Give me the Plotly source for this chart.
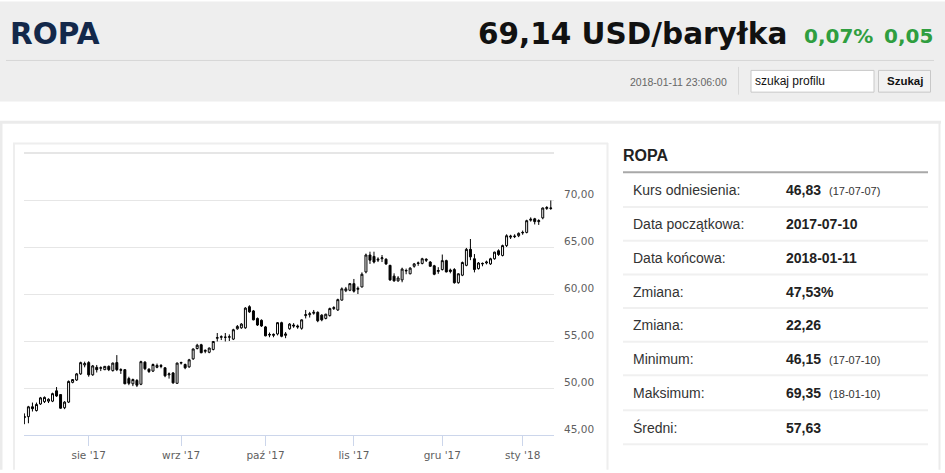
import pandas as pd
import plotly.graph_objects as go

# ---------------- data ----------------
holidays = ["2017-12-25", "2018-01-01"]
dates = [d.strftime("%Y-%m-%d") for d in pd.bdate_range("2017-07-10", "2018-01-11")
         if d.strftime("%Y-%m-%d") not in holidays]

open_ = [46.85, 46.95, 48.00, 47.60, 48.30, 48.55, 48.60, 48.60, 49.70, 49.30,
         47.90, 48.50, 50.60, 50.85, 51.50, 52.45, 52.70, 51.40, 52.20, 52.10,
         51.95, 52.30, 51.85, 52.70, 51.95, 51.95, 51.00, 50.45, 50.80, 50.40,
         52.75, 52.00, 51.80, 52.20, 52.40, 52.15, 51.40, 51.60, 50.50, 52.65,
         52.50, 52.25, 53.10, 54.20, 54.60, 53.90, 53.80, 54.10, 55.30, 55.40,
         55.40, 55.40, 55.20, 56.30, 56.40, 56.40, 58.65, 58.20, 57.40, 57.20,
         56.50, 55.70, 55.60, 55.75, 56.95, 55.60, 56.30, 56.70, 56.60, 56.35,
         57.70, 57.80, 57.95, 58.05, 57.75, 57.40, 57.70, 58.45, 58.30, 59.35,
         60.35, 60.40, 61.10, 60.50, 60.75, 62.35, 64.15, 64.00, 63.60, 63.75,
         63.70, 63.05, 61.90, 61.40, 61.50, 62.45, 62.15, 62.95, 63.25, 63.25,
         63.70, 63.40, 63.00, 62.40, 62.60, 63.55, 62.55, 62.60, 61.20, 62.00,
         63.05, 64.75, 63.75, 62.70, 63.20, 63.30, 63.20, 63.75, 64.60, 64.10,
         65.15, 66.05, 66.10, 66.20, 66.50, 66.55, 67.85, 68.00, 67.70, 68.10,
         69.10, 69.10]
high = [47.30, 48.10, 48.45, 48.45, 49.05, 49.10, 48.90, 49.50, 50.10, 49.35,
        48.60, 50.80, 50.95, 51.60, 52.80, 52.80, 52.85, 52.45, 52.45, 52.30,
        52.35, 52.40, 52.70, 53.50, 52.10, 52.00, 51.20, 51.00, 50.95, 52.90,
        52.85, 52.10, 52.60, 52.60, 52.55, 52.20, 51.65, 51.70, 52.70, 52.80,
        52.60, 53.10, 54.20, 54.70, 54.70, 54.10, 54.30, 55.00, 55.85, 55.60,
        55.85, 55.70, 56.30, 56.70, 56.90, 58.60, 58.80, 58.30, 57.50, 57.30,
        56.60, 55.90, 55.80, 57.00, 57.05, 55.95, 56.90, 56.90, 56.75, 57.30,
        58.30, 58.10, 58.30, 58.15, 57.85, 57.90, 58.55, 58.70, 59.50, 60.70,
        60.75, 61.15, 61.60, 60.80, 62.30, 64.30, 64.50, 64.50, 63.90, 64.15,
        63.80, 63.10, 62.20, 61.90, 62.80, 62.70, 62.85, 63.30, 63.45, 63.85,
        63.80, 63.50, 63.10, 62.85, 64.20, 63.65, 62.70, 62.75, 62.20, 63.45,
        64.90, 65.85, 64.25, 63.40, 63.35, 63.55, 63.85, 64.50, 64.75, 65.25,
        66.35, 66.30, 66.35, 66.55, 66.75, 67.90, 68.15, 68.10, 67.95, 69.20,
        69.35, 69.95]
low = [46.15, 46.25, 47.50, 47.50, 48.20, 48.40, 48.40, 48.50, 49.05, 47.80,
       47.75, 48.40, 50.50, 50.75, 51.40, 52.20, 51.20, 51.30, 51.65, 51.80,
       51.90, 51.80, 51.75, 51.80, 51.50, 50.40, 50.30, 50.20, 50.10, 50.30,
       51.90, 51.60, 51.70, 52.10, 52.10, 51.15, 51.00, 50.45, 50.45, 52.50,
       52.00, 52.15, 53.00, 54.10, 53.70, 53.70, 53.70, 54.00, 54.95, 55.10,
       54.95, 55.00, 55.10, 56.20, 56.30, 56.30, 58.00, 57.20, 56.60, 56.50,
       55.50, 55.40, 55.40, 55.60, 55.40, 55.30, 56.20, 56.40, 56.30, 56.20,
       57.40, 57.50, 57.80, 57.00, 57.10, 57.30, 57.60, 58.30, 58.20, 59.30,
       60.20, 60.30, 60.15, 60.00, 60.70, 62.20, 63.20, 63.25, 63.40, 63.40,
       63.10, 61.40, 61.30, 61.30, 61.25, 62.10, 62.10, 62.80, 63.00, 63.15,
       63.40, 62.90, 62.00, 62.15, 62.50, 62.30, 62.20, 61.10, 61.10, 61.90,
       62.95, 63.60, 62.30, 62.60, 62.95, 63.15, 63.10, 63.65, 64.05, 64.00,
       65.00, 65.85, 65.95, 66.05, 66.30, 66.45, 67.70, 67.40, 67.35, 67.95,
       68.95, 68.95]
close = [46.95, 48.00, 47.80, 48.25, 48.95, 49.00, 48.80, 49.40, 49.15, 47.85,
         48.50, 50.70, 50.90, 51.50, 52.70, 52.60, 51.40, 52.35, 51.95, 52.15,
         52.30, 51.95, 52.65, 51.95, 51.90, 50.45, 50.50, 50.90, 50.30, 52.80,
         52.05, 51.75, 52.50, 52.40, 52.30, 51.30, 51.50, 50.55, 52.65, 52.70,
         52.15, 53.00, 54.15, 54.55, 53.75, 54.00, 54.25, 54.95, 55.35, 55.45,
         55.40, 55.45, 56.20, 56.55, 56.80, 58.50, 58.10, 57.25, 56.70, 56.60,
         55.55, 55.65, 55.70, 56.95, 55.50, 55.75, 56.80, 56.60, 56.50, 57.25,
         57.80, 57.90, 58.05, 57.15, 57.25, 57.85, 58.45, 58.55, 59.40, 60.55,
         60.55, 61.10, 60.30, 60.60, 62.10, 64.15, 63.60, 63.40, 63.70, 63.85,
         63.20, 61.50, 61.40, 61.70, 62.65, 62.50, 62.75, 63.20, 63.30, 63.75,
         63.60, 62.95, 62.10, 62.50, 63.55, 62.35, 62.40, 61.20, 62.15, 63.35,
         64.75, 63.95, 62.60, 63.30, 63.25, 63.40, 63.75, 64.45, 64.20, 65.15,
         66.20, 66.15, 66.15, 66.45, 66.55, 67.80, 67.95, 67.70, 67.80, 69.15,
         69.20, 69.14]

month_ticks = ["2017-08-01", "2017-09-01", "2017-10-02", "2017-11-01", "2017-12-01", "2018-01-02"]
month_labels = ["sie '17", "wrz '17", "paź '17", "lis '17", "gru '17", "sty '18"]
y_ticks = [45, 50, 55, 60, 65, 70, 75]
y_labels = ["45,00", "50,00", "55,00", "60,00", "65,00", "70,00", ""]

title = "ROPA"
price_text = "69,14 USD/baryłka"
change_pct = "0,07%"
change_abs = "0,05"
timestamp = "2018-01-11 23:06:00"

table_labels = ["Kurs odniesienia:", "Data początkowa:", "Data końcowa:", "Zmiana:",
                "Zmiana:", "Minimum:", "Maksimum:", "Średni:"]
table_values = ["46,83", "2017-07-10", "2018-01-11", "47,53%", "22,26", "46,15", "69,35", "57,63"]
table_notes = ["(17-07-07)", "", "", "", "", "(17-07-10)", "(18-01-10)", ""]

# ---------------- layout helpers ----------------
W, H = 945, 473
ML, MR, MT, MB = 24, 391, 153, 35
PW = W - ML - MR
PH = H - MT - MB


def X(px):
    return (px - ML) / PW


def Y(py):
    return (H - MB - py) / PH


shapes = []
annotations = []


def rect(x0, y0, x1, y1, fill=None, line=None, lw=1, layer="below"):
    shapes.append(dict(type="rect", xref="paper", yref="paper",
                       x0=X(x0), x1=X(x1), y0=Y(y1), y1=Y(y0),
                       fillcolor=fill if fill else "rgba(0,0,0,0)",
                       line=dict(color=line if line else "rgba(0,0,0,0)", width=lw if line else 0),
                       layer=layer))


def hline(x0, x1, y, color, lw=1, layer="below"):
    shapes.append(dict(type="line", xref="paper", yref="paper",
                       x0=X(x0), x1=X(x1), y0=Y(y), y1=Y(y),
                       line=dict(color=color, width=lw), layer=layer))


def vline(x, y0, y1, color, lw=1, layer="below"):
    shapes.append(dict(type="line", xref="paper", yref="paper",
                       x0=X(x), x1=X(x), y0=Y(y0), y1=Y(y1),
                       line=dict(color=color, width=lw), layer=layer))


def text(px, py, s, size, color, family="Liberation Sans", bold=False, anchor="left"):
    annotations.append(dict(xref="paper", yref="paper", x=X(px), y=Y(py), text=s,
                            showarrow=False, xanchor=anchor, yanchor="middle",
                            borderpad=0,
                            font=dict(size=size, color=color, family=family,
                                      weight="bold" if bold else "normal")))


# header band
rect(0, 0, W, 101, fill="#eeeeee")
hline(6, 934, 59.5, "#d6d6d6", 1)
text(9, 33, title, 29.5, "#13284a", family="DejaVu Sans", bold=True)
text(788, 33, price_text, 29.5, "#111111", family="DejaVu Sans", bold=True, anchor="right")
text(803, 35, change_pct, 20, "#2f9e3f", family="DejaVu Sans", bold=True)
text(934, 35, change_abs, 20, "#2f9e3f", family="DejaVu Sans", bold=True, anchor="right")
text(728, 81, timestamp, 10.5, "#666666", anchor="right")
vline(738.5, 66, 94, "#d8d8d8", 1)
rect(751, 69.5, 874, 91.5, fill="#ffffff", line="#c8c8c8", lw=1)
text(754, 80.5, "szukaj profilu", 12, "#111111")
rect(878.5, 69.5, 930.5, 91.5, fill="#f2f2f2", line="#c8c8c8", lw=1)
text(904.5, 80.5, "Szukaj", 11.5, "#111111", bold=True, anchor="center")

# outer panel and chart box borders
hline(0, 941, 122, "#ebebeb", 3)
vline(1, 121, H, "#ebebeb", 3)
vline(939.5, 121, H, "#ebebeb", 2)
hline(13, 608, 143.3, "#eeeeee", 2)
vline(14, 143, H, "#eeeeee", 2)
vline(607.5, 143, H, "#eeeeee", 2)

# top gridline emphasis
hline(24, 554, 153, "#e6e6e6", 2)

# stats table
text(622, 156, title, 16, "#222222", bold=True)
hline(623, 928, 172.5, "#a8a8a8", 2)
seps = [207.7, 241.7, 275.7, 309.7, 343.7, 377.7, 413.0, 447.3]
prev = 172.5
for lab, val, note, s in zip(table_labels, table_values, table_notes, seps):
    cy = (prev + s) / 2 + 0.5
    text(632, cy, lab, 14, "#333333")
    text(785, cy, val, 14, "#222222", bold=True)
    if note:
        text(828, cy + 1, note, 11, "#333333")
    hline(623, 928, s, "#f0f0f0", 2)
    prev = s

# ---------------- figure ----------------
fig = go.Figure(go.Candlestick(
    x=dates, open=open_, high=high, low=low, close=close,
    increasing=dict(line=dict(color="#000000", width=1), fillcolor="#ffffff"),
    decreasing=dict(line=dict(color="#000000", width=1), fillcolor="#000000"),
    whiskerwidth=0, hoverinfo="x+y", showlegend=False,
))

fig.update_layout(
    width=W, height=H,
    margin=dict(l=ML, r=MR, t=MT, b=MB, pad=0),
    paper_bgcolor="#ffffff", plot_bgcolor="#ffffff",
    shapes=shapes, annotations=annotations,
    showlegend=False,
    xaxis=dict(type="category", range=[-0.1, 131.8], rangeslider=dict(visible=False),
               tickmode="array", tickvals=month_ticks, ticktext=month_labels,
               showgrid=False, showline=True, linecolor="#ccd6eb", linewidth=1,
               ticks="outside", ticklen=10, tickcolor="#ccd6eb", tickwidth=1,
               tickfont=dict(family="DejaVu Sans", size=10.5, color="#606060"),
               zeroline=False, fixedrange=True),
    yaxis=dict(side="right", range=[45, 75], tickmode="array", tickvals=y_ticks,
               ticktext=y_labels, showgrid=True, gridcolor="#e6e6e6", gridwidth=1,
               zeroline=False, showline=False, ticks="",
               ticklabelstandoff=9, ticklabelshift=-6,
               tickfont=dict(family="DejaVu Sans", size=10.5, color="#606060"),
               fixedrange=True),
)

fig.write_html("out.html", config={"displayModeBar": False},
               post_script="document.body.style.margin='0';document.body.style.padding='0';"
                           "document.body.style.overflow='hidden';")
